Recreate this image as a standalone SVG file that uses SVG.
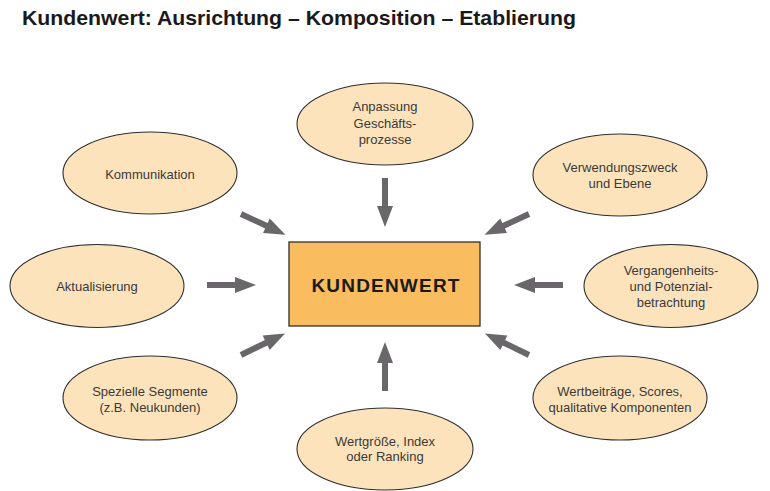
<svg xmlns="http://www.w3.org/2000/svg" width="770" height="491" viewBox="0 0 770 491">
<style>
.bg{fill:#ffffff}
.ell{fill:#FDE3BC;stroke:#2f2f2f;stroke-width:1.1}
.core{fill:#F9BC5E;stroke:#2f2f2f;stroke-width:1.3}
.lbl{font-family:"Liberation Sans",Arial,sans-serif;font-size:13px;fill:#3a3a3a;text-anchor:middle}
.title{font-family:"Liberation Sans",Arial,sans-serif;font-size:21px;font-weight:bold;fill:#1a1a1a}
.corelbl{font-family:"Liberation Sans",Arial,sans-serif;font-size:19px;font-weight:bold;fill:#1a1a1a;text-anchor:middle;letter-spacing:1.2px}
.arr{fill:#6A676B}
</style>
<defs>
<path id="arrow" d="M0,-3 L28,-3 L28,-8 L49,0 L28,8 L28,3 L0,3 Z"/>
</defs>
<rect class="bg" x="0" y="0" width="770" height="491"/>
<text class="title" x="22" y="25" textLength="554" lengthAdjust="spacingAndGlyphs">Kundenwert: Ausrichtung – Komposition – Etablierung</text>

<g id="connectors" class="arr">
<use href="#arrow" transform="translate(385,178) rotate(90)"/>
<use href="#arrow" transform="translate(385,391) rotate(-90)"/>
<use href="#arrow" transform="translate(207,285)"/>
<use href="#arrow" transform="translate(563,285) rotate(180)"/>
<use href="#arrow" transform="translate(241,214) rotate(24.9)"/>
<use href="#arrow" transform="translate(529,214) rotate(155.1)"/>
<use href="#arrow" transform="translate(241,355) rotate(-26)"/>
<use href="#arrow" transform="translate(529,355) rotate(-154)"/>
</g>

<g id="node-kundenwert">
<rect class="core" x="289" y="242" width="191" height="84"/>
<text class="corelbl" x="386" y="292">KUNDENWERT</text>
</g>

<g id="node-anpassung">
<ellipse class="ell" cx="385" cy="124" rx="88" ry="41"/>
<text class="lbl" x="385" y="111">Anpassung</text>
<text class="lbl" x="385" y="127.5">Geschäfts-</text>
<text class="lbl" x="385" y="144">prozesse</text>
</g>

<g id="node-kommunikation">
<ellipse class="ell" cx="150" cy="173" rx="87" ry="41"/>
<text class="lbl" x="150" y="179">Kommunikation</text>
</g>

<g id="node-verwendungszweck">
<ellipse class="ell" cx="620" cy="175" rx="87" ry="41"/>
<text class="lbl" x="620" y="171.5">Verwendungszweck</text>
<text class="lbl" x="620" y="187.5">und Ebene</text>
</g>

<g id="node-aktualisierung">
<ellipse class="ell" cx="97" cy="286" rx="87" ry="41.5"/>
<text class="lbl" x="97" y="291">Aktualisierung</text>
</g>

<g id="node-vergangenheit">
<ellipse class="ell" cx="671" cy="286" rx="87" ry="41.5"/>
<text class="lbl" x="671" y="275">Vergangenheits-</text>
<text class="lbl" x="671" y="291">und Potenzial-</text>
<text class="lbl" x="671" y="307">betrachtung</text>
</g>

<g id="node-spezielle">
<ellipse class="ell" cx="150" cy="398" rx="87" ry="42"/>
<text class="lbl" x="150" y="396">Spezielle Segmente</text>
<text class="lbl" x="150" y="412">(z.B. Neukunden)</text>
</g>

<g id="node-wertbeitraege">
<ellipse class="ell" cx="620" cy="398" rx="87" ry="42"/>
<text class="lbl" x="620" y="396">Wertbeiträge, Scores,</text>
<text class="lbl" x="620" y="412">qualitative Komponenten</text>
</g>

<g id="node-wertgroesse">
<ellipse class="ell" cx="385" cy="449" rx="88" ry="41"/>
<text class="lbl" x="385" y="446">Wertgröße, Index</text>
<text class="lbl" x="385" y="461">oder Ranking</text>
</g>
</svg>
